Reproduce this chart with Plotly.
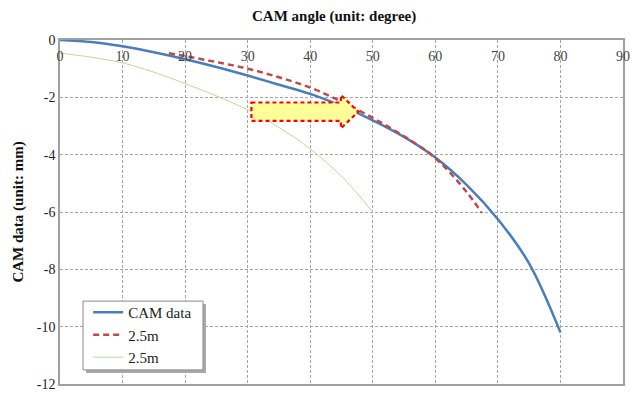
import plotly.graph_objects as go

# ---- data ----
cam_x = [0, 5, 10, 15, 20, 25, 30, 35, 40, 45, 50, 55, 60, 65, 70, 75, 80]
cam_y = [0, -0.07, -0.22, -0.43, -0.67, -0.94, -1.24, -1.56, -1.88, -2.3, -2.8, -3.38, -4.1, -5.05, -6.25, -7.8, -10.2]

red_x = [17.4, 20, 25, 30, 35, 40, 45, 50, 55, 60, 65, 67.4]
red_y = [-0.46, -0.56, -0.77, -1.0, -1.3, -1.66, -2.15, -2.72, -3.36, -4.12, -5.3, -6.03]

green_x = [0, 5, 10, 15, 20, 25, 30, 35, 40, 45, 50]
green_y = [-0.46, -0.6, -0.8, -1.12, -1.52, -1.95, -2.44, -3.05, -3.8, -4.75, -6.0]

x_ticks = [0, 10, 20, 30, 40, 50, 60, 70, 80, 90]
y_ticks = [0, -2, -4, -6, -8, -10, -12]
y_ticktext = ["0", "-2", "-4", "-6", "-8", "-10", "-12"]

x_title = "CAM angle (unit: degree)"
y_title = "CAM data (unit: mm)"

# block arrow outline (data coordinates)
arrow_x = [30.6, 44.9, 44.9, 47.7, 44.9, 44.9, 30.6]
arrow_y = [-2.18, -2.18, -1.92, -2.5, -3.08, -2.82, -2.82]

FONT = "'Liberation Serif', 'Times New Roman', serif"
GRID = "#A6A6A6"

fig = go.Figure()
fig.add_trace(go.Scatter(x=cam_x, y=cam_y, mode="lines", name="CAM data",
                         line=dict(color="#4A7EBB", width=2.5, shape="spline")))
fig.add_trace(go.Scatter(x=red_x, y=red_y, mode="lines", name="2.5m",
                         line=dict(color="#BE4B48", width=2.5, dash="6px,4px", shape="spline")))
fig.add_trace(go.Scatter(x=green_x, y=green_y, mode="lines", name="2.5m",
                         line=dict(color="#C3D69B", width=1, shape="spline")))

path = "M " + " L ".join(f"{x},{y}" for x, y in zip(arrow_x, arrow_y)) + " Z"
fig.add_shape(type="path", path=path, xref="x", yref="y",
              fillcolor="#FFFF99", line=dict(color="#FF0000", width=2.2, dash="4px,3px"))

# legend shadow + box
fig.add_shape(type="rect", xref="paper", yref="paper",
              x0=0.0462, x1=0.2593, y0=0.032, y1=0.2326,
              fillcolor="#A8A8A8", line=dict(width=0), layer="above")
fig.add_shape(type="rect", xref="paper", yref="paper",
              x0=0.0409, x1=0.254, y0=0.041, y1=0.241,
              fillcolor="white", line=dict(color="#8A8A8A", width=1), layer="above")

fig.add_annotation(text="<b>" + x_title + "</b>", xref="paper", yref="paper",
                   x=0.487, y=1.067, xanchor="center", yanchor="middle",
                   showarrow=False, font=dict(family=FONT, size=15, color="#111111"))

fig.update_layout(
    width=631, height=393,
    margin=dict(l=60, r=8, t=40, b=9, autoexpand=False),
    paper_bgcolor="white", plot_bgcolor="white",
    font=dict(family=FONT, size=14, color="#222222"),
    showlegend=True,
    legend=dict(x=0.05, y=0.256, xanchor="left", yanchor="top",
                bgcolor="rgba(0,0,0,0)", borderwidth=0,
                font=dict(family=FONT, size=15, color="#222222"),
                itemwidth=30, tracegroupgap=0),
    xaxis=dict(side="top", range=[0, 90], tickvals=x_ticks, automargin=False,
               ticklabelposition="inside", ticks="inside", ticklen=11,
               tickcolor="rgba(0,0,0,0)", ticklabeloverflow="allow",
               showgrid=True, gridcolor=GRID, griddash="3px,2px", gridwidth=1,
               showline=True, linecolor="#A0A0A0", linewidth=1.5, mirror=True,
               zeroline=False),
    yaxis=dict(range=[-12, 0], tickvals=y_ticks, ticktext=y_ticktext, ticks="",
               ticklabeloverflow="allow", automargin=False,
               showgrid=True, gridcolor=GRID, griddash="3px,2px", gridwidth=1,
               showline=True, linecolor="#A0A0A0", linewidth=1.5, mirror=True,
               zeroline=False,
               title=dict(text="<b>" + y_title + "</b>", standoff=10,
                          font=dict(family=FONT, size=15, color="#111111"))),
)

fig.write_html("out.html")
